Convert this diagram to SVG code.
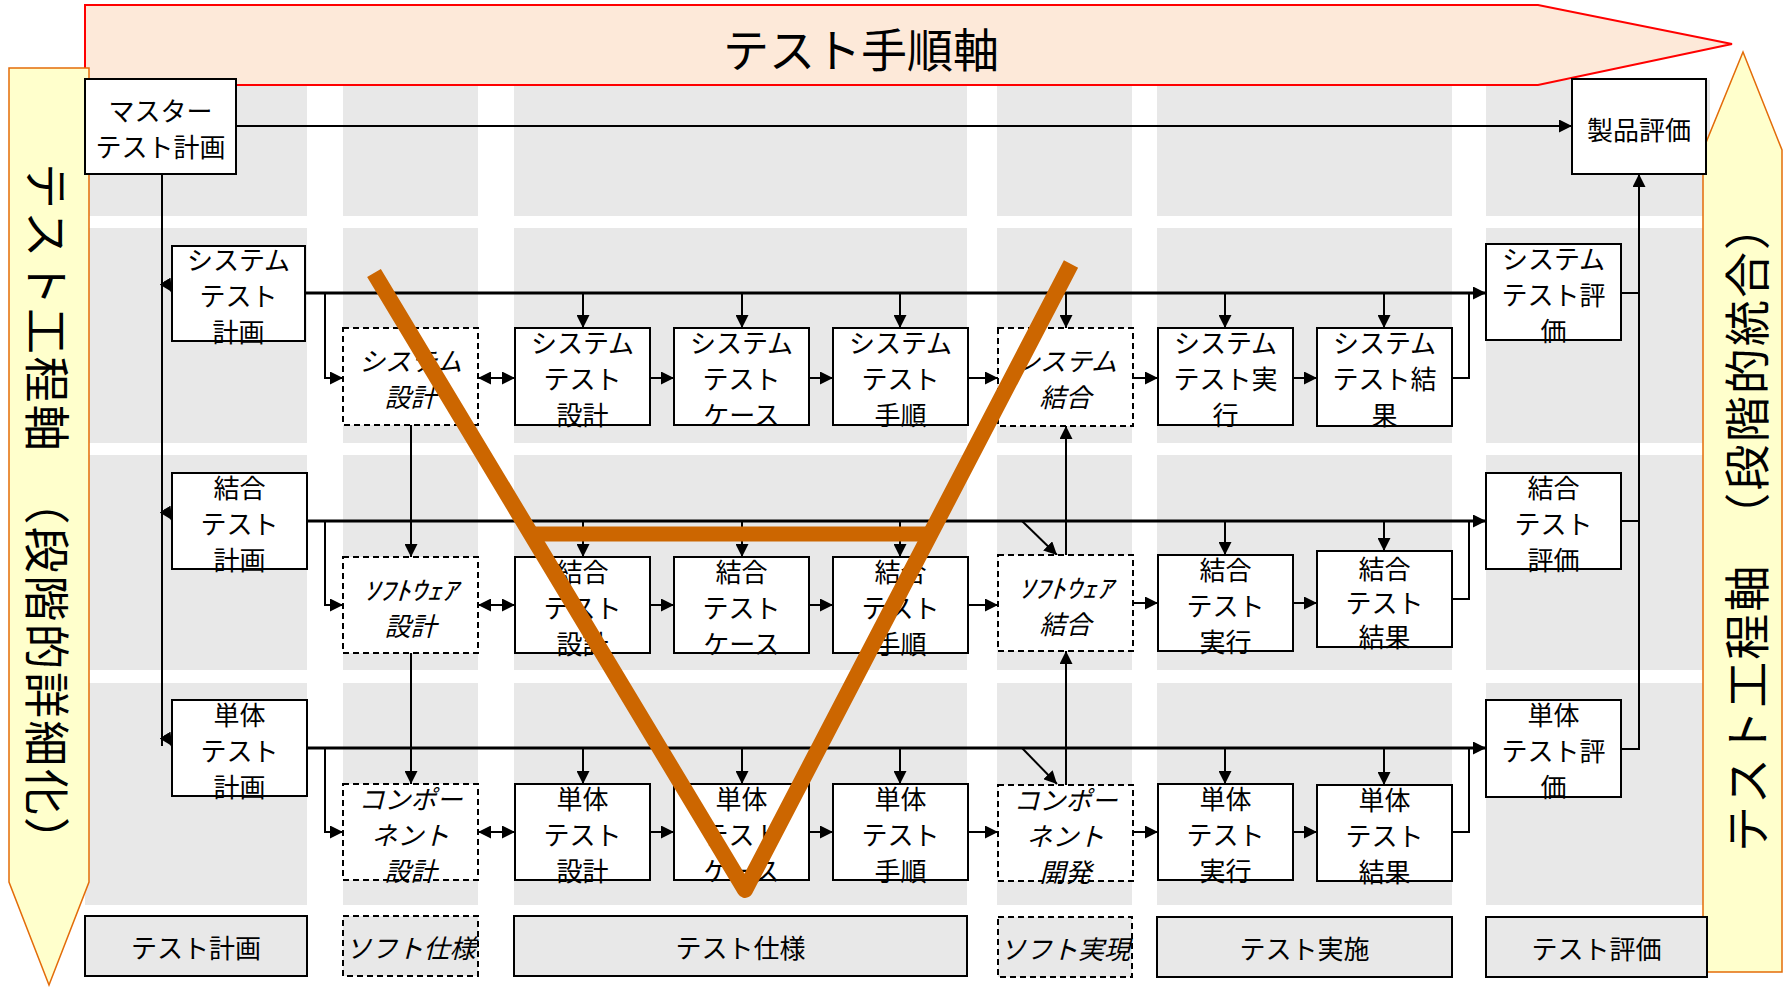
<svg xmlns="http://www.w3.org/2000/svg" width="1784" height="987" viewBox="0 0 1784 987">
<style>
text{font-family:"Noto Sans CJK JP","Noto Sans CJK SC",sans-serif;fill:#000}
.t{font-size:26px;text-anchor:middle}
.i{font-style:italic}
.box{fill:#fff;stroke:#000;stroke-width:2}
.dbox{fill:#fff;stroke:#000;stroke-width:2;stroke-dasharray:6 4}
.cat{fill:#e8e8e8;stroke:#000;stroke-width:2}
.dcat{fill:#e8e8e8;stroke:#000;stroke-width:2;stroke-dasharray:6 4}
.bg{fill:#e8e8e8}
.c{fill:none;stroke:#000;stroke-width:2}
.m{fill:none;stroke:#000;stroke-width:3}
.a{marker-end:url(#ah)}
.d{marker-start:url(#ah);marker-end:url(#ah)}
</style>
<defs>
<marker id="ah" markerWidth="13" markerHeight="13" refX="13" refY="6.5" orient="auto-start-reverse" markerUnits="userSpaceOnUse"><path d="M0,0 L13,6.5 L0,13 z" fill="#000"/></marker>
</defs>
<rect width="1784" height="987" fill="#fff"/>
<g id="grid">
<rect class="bg" x="85" y="80" width="222" height="136"/>
<rect class="bg" x="343" y="80" width="135" height="136"/>
<rect class="bg" x="514" y="80" width="453" height="136"/>
<rect class="bg" x="997" y="80" width="135" height="136"/>
<rect class="bg" x="1157" y="80" width="295" height="136"/>
<rect class="bg" x="1486" y="80" width="224" height="136"/>
<rect class="bg" x="85" y="228" width="222" height="215"/>
<rect class="bg" x="343" y="228" width="135" height="215"/>
<rect class="bg" x="514" y="228" width="453" height="215"/>
<rect class="bg" x="997" y="228" width="135" height="215"/>
<rect class="bg" x="1157" y="228" width="295" height="215"/>
<rect class="bg" x="1486" y="228" width="224" height="215"/>
<rect class="bg" x="85" y="455" width="222" height="215"/>
<rect class="bg" x="343" y="455" width="135" height="215"/>
<rect class="bg" x="514" y="455" width="453" height="215"/>
<rect class="bg" x="997" y="455" width="135" height="215"/>
<rect class="bg" x="1157" y="455" width="295" height="215"/>
<rect class="bg" x="1486" y="455" width="224" height="215"/>
<rect class="bg" x="85" y="683" width="222" height="222"/>
<rect class="bg" x="343" y="683" width="135" height="222"/>
<rect class="bg" x="514" y="683" width="453" height="222"/>
<rect class="bg" x="997" y="683" width="135" height="222"/>
<rect class="bg" x="1157" y="683" width="295" height="222"/>
<rect class="bg" x="1486" y="683" width="224" height="222"/>
</g>
<g id="axis-procedure">
<polygon points="85,5 1538,5 1732,44 1538,85 85,85" fill="#fde9d9" stroke="#ff0000" stroke-width="2"/>
<text x="861" y="67" font-size="46" text-anchor="middle">テスト手順軸</text>
</g>
<g id="axis-detail">
<polygon points="9,68 89,68 89,882 49,985 9,882" fill="#ffffcc" stroke="#e36c09" stroke-width="1.5"/>
<text transform="translate(47,513) rotate(90)" x="0" y="17" font-size="46" text-anchor="middle" textLength="700" lengthAdjust="spacing">テスト工程軸　（段階的詳細化）</text>
</g>
<g id="axis-integration">
<polygon points="1743,52 1782,150 1782,972 1703,972 1703,150" fill="#ffffcc" stroke="#e36c09" stroke-width="1.5"/>
<text transform="translate(1747,528) rotate(-90)" x="0" y="17" font-size="46" text-anchor="middle" textLength="648" lengthAdjust="spacing">テスト工程軸　（段階的統合）</text>
</g>
<g id="connectors">
<path class="c a" d="M236,126 H1572"/>
<path class="c" d="M162,174 V746"/>
<path class="c a" d="M165,281 L172,292"/>
<path class="c a" d="M165,509 L172,520"/>
<path class="c a" d="M165,735 L172,746"/>
<path class="m a" d="M305,293 H1486"/>
<path class="m a" d="M307,521 H1486"/>
<path class="m a" d="M307,748 H1486"/>
<path class="c a" d="M325,293 V378 H343"/>
<path class="c a" d="M325,521 V605 H343"/>
<path class="c a" d="M325,748 V832 H343"/>
<path class="c a" d="M583,293 V328"/>
<path class="c a" d="M742,293 V328"/>
<path class="c a" d="M900,293 V328"/>
<path class="c a" d="M1066,293 V328"/>
<path class="c a" d="M1225,293 V328"/>
<path class="c a" d="M1384,293 V328"/>
<path class="c a" d="M583,521 V557"/>
<path class="c a" d="M742,521 V557"/>
<path class="c a" d="M900,521 V557"/>
<path class="c a" d="M1022,521 L1057,555"/>
<path class="c a" d="M1225,521 V555"/>
<path class="c a" d="M1384,521 V551"/>
<path class="c a" d="M583,748 V784"/>
<path class="c a" d="M742,748 V784"/>
<path class="c a" d="M900,748 V784"/>
<path class="c a" d="M1022,748 L1057,784"/>
<path class="c a" d="M1225,748 V784"/>
<path class="c a" d="M1384,748 V785"/>
<path class="c d" d="M478,378 H515"/>
<path class="c a" d="M650,378 H674"/>
<path class="c a" d="M809,378 H833"/>
<path class="c a" d="M968,378 H998"/>
<path class="c a" d="M1133,378 H1158"/>
<path class="c a" d="M1293,378 H1317"/>
<path class="c d" d="M478,605 H515"/>
<path class="c a" d="M650,605 H674"/>
<path class="c a" d="M809,605 H833"/>
<path class="c a" d="M968,605 H998"/>
<path class="c a" d="M1133,603 H1158"/>
<path class="c a" d="M1293,603 H1317"/>
<path class="c d" d="M478,832 H515"/>
<path class="c a" d="M650,832 H674"/>
<path class="c a" d="M809,832 H833"/>
<path class="c a" d="M968,832 H998"/>
<path class="c a" d="M1133,832 H1158"/>
<path class="c a" d="M1293,832 H1317"/>
<path class="c" d="M1452,378 H1469 V293"/>
<path class="c" d="M1452,599 H1469 V521"/>
<path class="c" d="M1452,832 H1469 V748"/>
<path class="c" d="M1621,293 H1639"/>
<path class="c" d="M1621,521 H1639"/>
<path class="c a" d="M1621,749 H1639 V174"/>
<path class="c a" d="M411,425 V557"/>
<path class="c a" d="M411,653 V784"/>
<path class="c a" d="M1066,785 V651"/>
<path class="c a" d="M1066,555 V426"/>
</g>
<g id="master"><rect class="box" x="85" y="79" width="151" height="95"/><text class="t" x="160.5" y="121">マスター</text><text class="t" x="160.5" y="157">テスト計画</text></g>
<g id="product-eval"><rect class="box" x="1572" y="79" width="134" height="95"/><text class="t" x="1639" y="140" font-size="28">製品評価</text></g>

<g id="sys-plan"><rect class="box" x="172" y="246" width="133" height="95"/><text class="t" x="238.5"><tspan x="238.5" y="270">システム</tspan><tspan x="238.5" y="306">テスト</tspan><tspan x="238.5" y="342">計画</tspan></text></g>
<g id="sys-design"><rect class="dbox" x="343" y="328" width="135" height="97"/><text class="t i"><tspan x="410.5" y="371">システム</tspan><tspan x="410.5" y="407">設計</tspan></text></g>
<g id="sys-test-design"><rect class="box" x="515" y="328" width="135" height="97"/><text class="t"><tspan x="582.5" y="353">システム</tspan><tspan x="582.5" y="389">テスト</tspan><tspan x="582.5" y="425">設計</tspan></text></g>
<g id="sys-test-case"><rect class="box" x="674" y="328" width="135" height="97"/><text class="t"><tspan x="741.5" y="353">システム</tspan><tspan x="741.5" y="389">テスト</tspan><tspan x="741.5" y="425">ケース</tspan></text></g>
<g id="sys-test-proc"><rect class="box" x="833" y="328" width="135" height="97"/><text class="t"><tspan x="900.5" y="353">システム</tspan><tspan x="900.5" y="389">テスト</tspan><tspan x="900.5" y="425">手順</tspan></text></g>
<g id="sys-integ"><rect class="dbox" x="998" y="328" width="135" height="98"/><text class="t i"><tspan x="1065.5" y="371">システム</tspan><tspan x="1065.5" y="407">結合</tspan></text></g>
<g id="sys-exec"><rect class="box" x="1158" y="328" width="135" height="97"/><text class="t"><tspan x="1225.5" y="353">システム</tspan><tspan x="1225.5" y="389">テスト実</tspan><tspan x="1225.5" y="425">行</tspan></text></g>
<g id="sys-result"><rect class="box" x="1317" y="328" width="135" height="98"/><text class="t"><tspan x="1384.5" y="353">システム</tspan><tspan x="1384.5" y="389">テスト結</tspan><tspan x="1384.5" y="425">果</tspan></text></g>
<g id="sys-eval"><rect class="box" x="1486" y="244" width="135" height="96"/><text class="t"><tspan x="1553.5" y="268.5">システム</tspan><tspan x="1553.5" y="304.5">テスト評</tspan><tspan x="1553.5" y="340.5">価</tspan></text></g>

<g id="int-plan"><rect class="box" x="172" y="473" width="135" height="96"/><text class="t"><tspan x="239.5" y="497.5">結合</tspan><tspan x="239.5" y="533.5">テスト</tspan><tspan x="239.5" y="569.5">計画</tspan></text></g>
<g id="sw-design"><rect class="dbox" x="343" y="557" width="135" height="96"/><text class="t i" x="410.5" y="599.5" textLength="94" lengthAdjust="spacingAndGlyphs">ｿﾌﾄｳｪｱ</text><text class="t i" x="410.5" y="635.5">設計</text></g>
<g id="int-test-design"><rect class="box" x="515" y="557" width="135" height="96"/><text class="t"><tspan x="582.5" y="581.5">結合</tspan><tspan x="582.5" y="617.5">テスト</tspan><tspan x="582.5" y="653.5">設計</tspan></text></g>
<g id="int-test-case"><rect class="box" x="674" y="557" width="135" height="96"/><text class="t"><tspan x="741.5" y="581.5">結合</tspan><tspan x="741.5" y="617.5">テスト</tspan><tspan x="741.5" y="653.5">ケース</tspan></text></g>
<g id="int-test-proc"><rect class="box" x="833" y="557" width="135" height="96"/><text class="t"><tspan x="900.5" y="581.5">結合</tspan><tspan x="900.5" y="617.5">テスト</tspan><tspan x="900.5" y="653.5">手順</tspan></text></g>
<g id="sw-integ"><rect class="dbox" x="998" y="555" width="135" height="96"/><text class="t i" x="1065.5" y="597.5" textLength="94" lengthAdjust="spacingAndGlyphs">ｿﾌﾄｳｪｱ</text><text class="t i" x="1065.5" y="633.5">結合</text></g>
<g id="int-exec"><rect class="box" x="1158" y="555" width="135" height="96"/><text class="t"><tspan x="1225.5" y="579.5">結合</tspan><tspan x="1225.5" y="615.5">テスト</tspan><tspan x="1225.5" y="651.5">実行</tspan></text></g>
<g id="int-result"><rect class="box" x="1317" y="551" width="135" height="96"/><text class="t"><tspan x="1384.5" y="579">結合</tspan><tspan x="1384.5" y="613">テスト</tspan><tspan x="1384.5" y="647">結果</tspan></text></g>
<g id="int-eval"><rect class="box" x="1486" y="473" width="135" height="96"/><text class="t"><tspan x="1553.5" y="497.5">結合</tspan><tspan x="1553.5" y="533.5">テスト</tspan><tspan x="1553.5" y="569.5">評価</tspan></text></g>

<g id="unit-plan"><rect class="box" x="172" y="700" width="135" height="96"/><text class="t"><tspan x="239.5" y="724.5">単体</tspan><tspan x="239.5" y="760.5">テスト</tspan><tspan x="239.5" y="796.5">計画</tspan></text></g>
<g id="comp-design"><rect class="dbox" x="343" y="784" width="135" height="96"/><text class="t i"><tspan x="410.5" y="808.5">コンポー</tspan><tspan x="410.5" y="844.5">ネント</tspan><tspan x="410.5" y="880.5">設計</tspan></text></g>
<g id="unit-test-design"><rect class="box" x="515" y="784" width="135" height="96"/><text class="t"><tspan x="582.5" y="808.5">単体</tspan><tspan x="582.5" y="844.5">テスト</tspan><tspan x="582.5" y="880.5">設計</tspan></text></g>
<g id="unit-test-case"><rect class="box" x="674" y="784" width="135" height="96"/><text class="t"><tspan x="741.5" y="808.5">単体</tspan><tspan x="741.5" y="844.5">テスト</tspan><tspan x="741.5" y="880.5">ケース</tspan></text></g>
<g id="unit-test-proc"><rect class="box" x="833" y="784" width="135" height="96"/><text class="t"><tspan x="900.5" y="808.5">単体</tspan><tspan x="900.5" y="844.5">テスト</tspan><tspan x="900.5" y="880.5">手順</tspan></text></g>
<g id="comp-dev"><rect class="dbox" x="998" y="785" width="135" height="96"/><text class="t i"><tspan x="1065.5" y="809.5">コンポー</tspan><tspan x="1065.5" y="845.5">ネント</tspan><tspan x="1065.5" y="881.5">開発</tspan></text></g>
<g id="unit-exec"><rect class="box" x="1158" y="784" width="135" height="96"/><text class="t"><tspan x="1225.5" y="808.5">単体</tspan><tspan x="1225.5" y="844.5">テスト</tspan><tspan x="1225.5" y="880.5">実行</tspan></text></g>
<g id="unit-result"><rect class="box" x="1317" y="785" width="135" height="96"/><text class="t"><tspan x="1384.5" y="809.5">単体</tspan><tspan x="1384.5" y="845.5">テスト</tspan><tspan x="1384.5" y="881.5">結果</tspan></text></g>
<g id="unit-eval"><rect class="box" x="1486" y="700" width="135" height="97"/><text class="t"><tspan x="1553.5" y="725">単体</tspan><tspan x="1553.5" y="761">テスト評</tspan><tspan x="1553.5" y="797">価</tspan></text></g>

<g id="cat-test-plan"><rect class="cat" x="85" y="916" width="222" height="60"/><text class="t" x="196" y="958">テスト計画</text></g>
<g id="cat-soft-spec"><rect class="dcat" x="343" y="916" width="135" height="60"/><text class="t i" x="410.5" y="958">ソフト仕様</text></g>
<g id="cat-test-spec"><rect class="cat" x="514" y="916" width="453" height="60"/><text class="t" x="740.5" y="958">テスト仕様</text></g>
<g id="cat-soft-impl"><rect class="dcat" x="998" y="917" width="134" height="60"/><text class="t i" x="1065" y="959">ソフト実現</text></g>
<g id="cat-test-exec"><rect class="cat" x="1157" y="917" width="295" height="60"/><text class="t" x="1304.5" y="959">テスト実施</text></g>
<g id="cat-test-eval"><rect class="cat" x="1486" y="917" width="221" height="60"/><text class="t" x="1596.5" y="959">テスト評価</text></g>

<g id="v-shape">
<polyline points="374,273 745,890 1071,264" fill="none" stroke="#cc6600" stroke-width="16" stroke-linejoin="round"/>
<line x1="531" y1="534" x2="930" y2="534" stroke="#cc6600" stroke-width="15"/>
</g>
</svg>
